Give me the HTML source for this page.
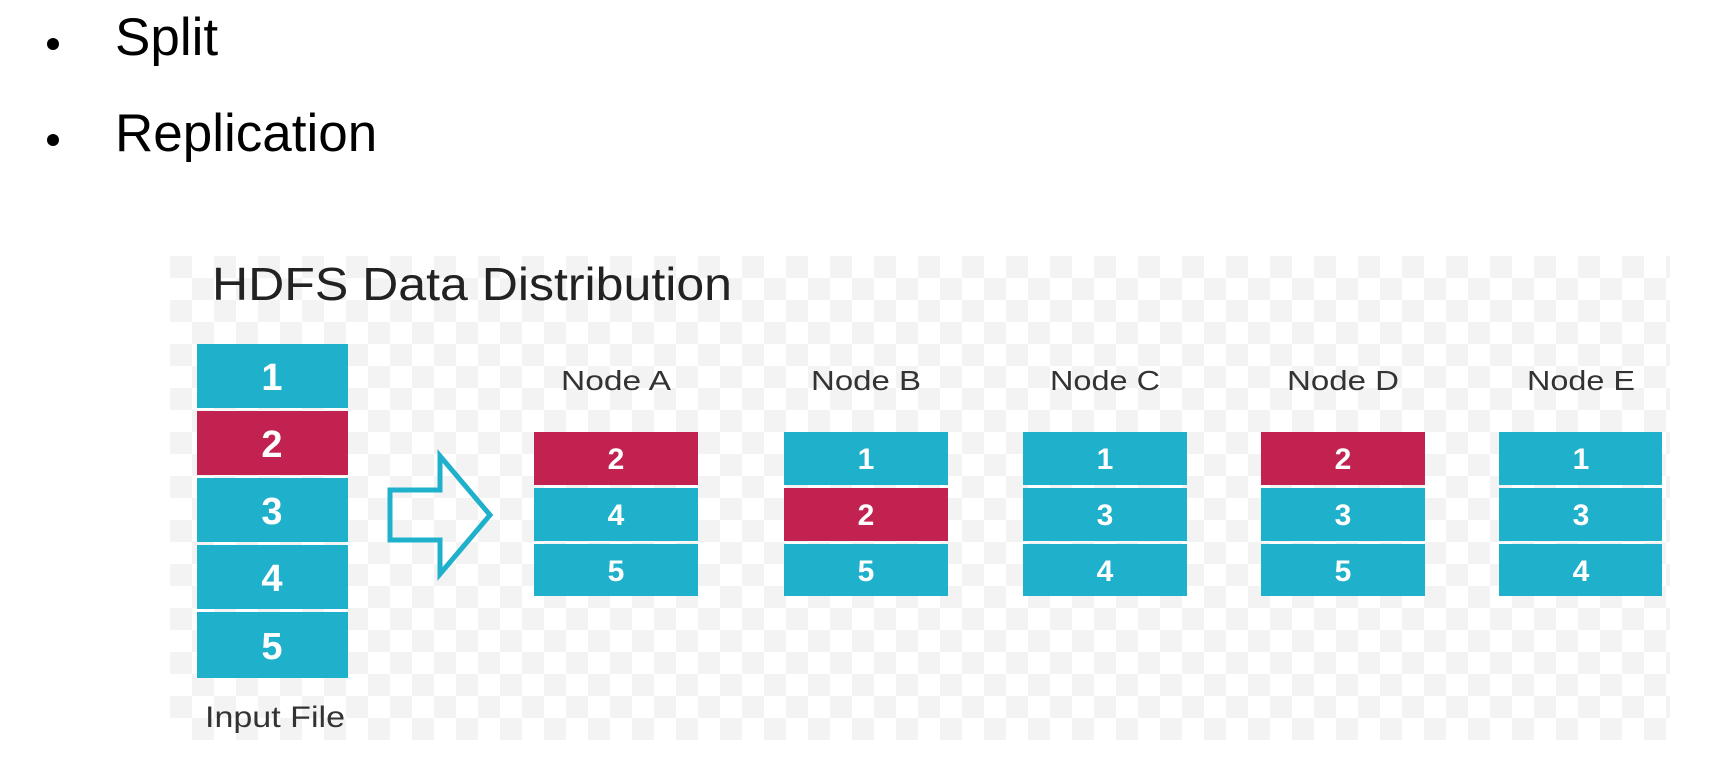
<!DOCTYPE html>
<html><head><meta charset="utf-8"><style>
html,body{margin:0;padding:0;background:#fff;}
body{width:1732px;height:776px;overflow:hidden;position:relative;font-family:"Liberation Sans",Arial,sans-serif;}
</style></head><body>
<svg width="1732" height="776" viewBox="0 0 1732 776" xmlns="http://www.w3.org/2000/svg">
<defs>
<pattern id="chk" x="170" y="256" width="44" height="44" patternUnits="userSpaceOnUse">
<rect width="44" height="44" fill="#ffffff"/>
<rect width="22" height="22" fill="#f3f3f3"/>
<rect x="22" y="22" width="22" height="22" fill="#f3f3f3"/>
</pattern>
</defs>
<circle cx="53" cy="44" r="6" fill="#000"/>
<circle cx="53" cy="140" r="6" fill="#000"/>
<text x="115" y="55" font-size="53" fill="#000">Split</text>
<text x="115" y="151" font-size="53" fill="#000">Replication</text>

<rect x="170" y="256" width="1500" height="484" fill="url(#chk)"/>
<text x="212" y="300" font-size="46" fill="#222" textLength="520" lengthAdjust="spacingAndGlyphs">HDFS Data Distribution</text>

<g font-weight="bold" fill="#fff" text-anchor="middle" font-size="38">
<rect x="197" y="344" width="151" height="64" fill="#1fb0cc"/>
<rect x="197" y="411" width="151" height="64" fill="#c1224f"/>
<rect x="197" y="478" width="151" height="64" fill="#1fb0cc"/>
<rect x="197" y="545" width="151" height="64" fill="#1fb0cc"/>
<rect x="197" y="612" width="151" height="66" fill="#1fb0cc"/>
<text x="272" y="390">1</text><text x="272" y="457">2</text><text x="272" y="524">3</text><text x="272" y="591">4</text><text x="272" y="659">5</text>
</g>
<text x="205" y="727" font-size="30" fill="#333" textLength="140" lengthAdjust="spacingAndGlyphs">Input File</text>

<polygon points="390,490 440,490 440,456 490,515 440,574 440,540 390,540" fill="none" stroke="#1fb0cc" stroke-width="5" stroke-linejoin="miter"/>

<g font-size="28" fill="#333" text-anchor="middle">
<text x="616" y="390" textLength="110" lengthAdjust="spacingAndGlyphs">Node A</text>
<text x="866" y="390" textLength="110" lengthAdjust="spacingAndGlyphs">Node B</text>
<text x="1105" y="390" textLength="110" lengthAdjust="spacingAndGlyphs">Node C</text>
<text x="1343" y="390" textLength="112" lengthAdjust="spacingAndGlyphs">Node D</text>
<text x="1581" y="390" textLength="108" lengthAdjust="spacingAndGlyphs">Node E</text>
</g>

<g font-weight="bold" font-size="30" fill="#fff" text-anchor="middle">
<rect x="534" y="432" width="164" height="53" fill="#c1224f"/>
<rect x="534" y="488" width="164" height="53" fill="#1fb0cc"/>
<rect x="534" y="544" width="164" height="52" fill="#1fb0cc"/>
<text x="616" y="469">2</text><text x="616" y="525">4</text><text x="616" y="581">5</text>
<rect x="784" y="432" width="164" height="53" fill="#1fb0cc"/>
<rect x="784" y="488" width="164" height="53" fill="#c1224f"/>
<rect x="784" y="544" width="164" height="52" fill="#1fb0cc"/>
<text x="866" y="469">1</text><text x="866" y="525">2</text><text x="866" y="581">5</text>
<rect x="1023" y="432" width="164" height="53" fill="#1fb0cc"/>
<rect x="1023" y="488" width="164" height="53" fill="#1fb0cc"/>
<rect x="1023" y="544" width="164" height="52" fill="#1fb0cc"/>
<text x="1105" y="469">1</text><text x="1105" y="525">3</text><text x="1105" y="581">4</text>
<rect x="1261" y="432" width="164" height="53" fill="#c1224f"/>
<rect x="1261" y="488" width="164" height="53" fill="#1fb0cc"/>
<rect x="1261" y="544" width="164" height="52" fill="#1fb0cc"/>
<text x="1343" y="469">2</text><text x="1343" y="525">3</text><text x="1343" y="581">5</text>
<rect x="1499" y="432" width="163" height="53" fill="#1fb0cc"/>
<rect x="1499" y="488" width="163" height="53" fill="#1fb0cc"/>
<rect x="1499" y="544" width="163" height="52" fill="#1fb0cc"/>
<text x="1581" y="469">1</text><text x="1581" y="525">3</text><text x="1581" y="581">4</text>
</g>
</svg>
</body></html>
